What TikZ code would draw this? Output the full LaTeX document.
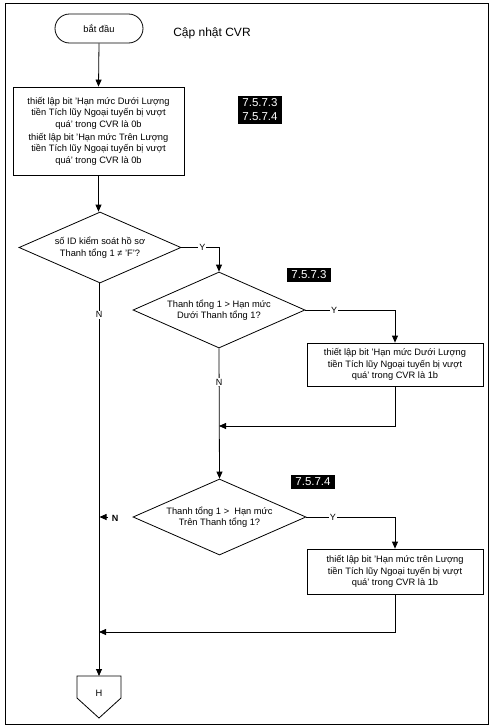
\documentclass[tikz,border=0pt]{standalone}
\usepackage{fontspec}
\setmainfont{Liberation Sans}
\usetikzlibrary{shapes.geometric,arrows.meta}
\begin{document}
\begin{tikzpicture}[x=1pt,y=-1pt,
  every node/.style={font=\fontsize{9.3}{11.5}\selectfont},
  arr/.style={line width=0.8pt,-{Triangle[length=7pt,width=6pt]}},
  procbox/.style={draw,line width=0.8pt,align=center,inner sep=0pt},
  decision/.style={draw,diamond,shape aspect=2.3,line width=0.8pt,align=center,inner sep=0pt},
  tag/.style={fill=black,text=white,font=\fontsize{11.5}{14}\selectfont,align=center,inner xsep=4pt,inner ysep=3pt},
  lbl/.style={font=\fontsize{9}{10}\selectfont,fill=white,inner sep=1pt}]
\useasboundingbox (0,0) rectangle (494,726);
\node[draw,line width=1pt,minimum width=483pt,minimum height=721pt,inner sep=0pt] (frame) at (246.5,363.5) {};
% start
\node[draw,line width=0.8pt,rounded corners=14.5pt,minimum width=88pt,minimum height=29pt,inner sep=0pt] (start) at (99,28.5) {bắt đầu};
\node[font=\fontsize{12}{14}\selectfont] (title) at (212,33) {Cập nhật CVR};
% box1
\node[procbox,minimum width=171pt,minimum height=88pt] (box1) at (98.5,131) {thiết lập bit 'Hạn mức Dưới Lượng\\tiền Tích lũy Ngoại tuyến bị vượt\\quá' trong CVR là 0b\\[1.5pt]thiết lập bit 'Hạn mức Trên Lượng\\tiền Tích lũy Ngoại tuyến bị vượt\\quá' trong CVR là 0b};
\node[tag] (t1) at (260,110) {7.5.7.3\\7.5.7.4};
% decision 1
\node[decision,minimum width=162pt,minimum height=71pt] (d1) at (100,247.5) {số ID kiểm soát hồ sơ\\Thanh tổng 1 ≠ 'F'?};
% decision 2
\node[decision,minimum width=172pt,minimum height=76pt] (d2) at (219,310) {Thanh tổng 1 > Hạn mức\\Dưới Thanh tổng 1?};
\node[tag] (t2) at (309,275) {7.5.7.3};
% box2
\node[procbox,minimum width=176pt,minimum height=43pt] (box2) at (395,364.5) {thiết lập bit 'Hạn mức Dưới Lượng\\tiền Tích lũy Ngoại tuyến bị vượt\\quá' trong CVR là 1b};
% decision 3
\node[decision,minimum width=173pt,minimum height=76pt] (d3) at (219.5,517) {Thanh tổng 1 >\ \ Hạn mức\\Trên Thanh tổng 1?};
\node[tag] (t3) at (313,482) {7.5.7.4};
% box3
\node[procbox,minimum width=176pt,minimum height=45pt] (box3) at (395,571.5) {thiết lập bit 'Hạn mức trên Lượng\\tiền Tích lũy Ngoại tuyến bị vượt\\quá' trong CVR là 1b};
% H connector
\draw[line width=0.8pt] (77,676) -- (121,676) -- (121,698) -- (99,718) -- (77,698) -- cycle;
\node (H) at (99,693) {H};
\coordinate (Htop) at (99,676);
% connectors
\draw[arr] (start.south) -- (box1.north);
\draw[arr] (box1.south) -- (box1.south |- d1.north);
\draw[arr] (d1.east) -| node[lbl,pos=0.28] {Y} (d2.north);
\draw[arr] (d2.east) -| node[lbl,pos=0.16] {Y} (box2.north);
\coordinate (m2) at (219,426);
\draw[arr] (box2.south) |- (m2);
\draw[arr] (d2.south) -- node[lbl,pos=0.26] {N} (d3.north);
\draw[arr] (d3.east) -| node[lbl,pos=0.15] {Y} (box3.north);
\coordinate (m3) at (99,632);
\draw[arr] (box3.south) |- (m3);
\draw[arr] (d1.south -| 99,0) -- node[lbl,pos=0.08] {N} (Htop);
\coordinate (n3a) at (108,517);
\coordinate (n3b) at (99.5,517);
\draw[arr] (n3a) -- (n3b);
\node[font=\fontsize{9}{10}\selectfont\bfseries] (n3) at (115,518) {N};
\end{tikzpicture}
\end{document}
